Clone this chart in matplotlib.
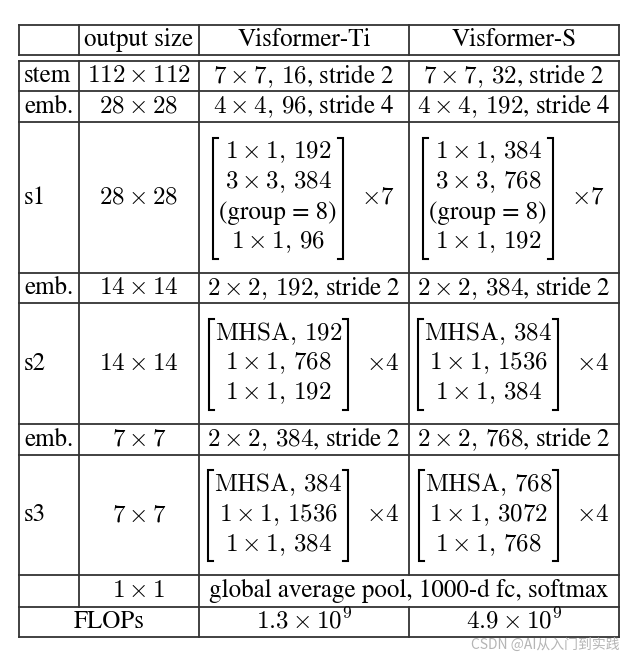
import re
import matplotlib
matplotlib.use("Agg")
import matplotlib.pyplot as plt

plt.rcParams["font.family"] = ["STIXGeneral", "DejaVu Serif"]
plt.rcParams["mathtext.fontset"] = "cm"

# table contents
header = ["", "output size", "Visformer-Ti", "Visformer-S"]
stages = ["stem", "emb.", "s1", "emb.", "s2", "emb.", "s3"]
out_sizes = [r"$112\times112$", r"$28\times28$", r"$28\times28$", r"$14\times14$",
             r"$14\times14$", r"$7\times7$", r"$7\times7$"]
ti_cfg = [r"$7\times7, 16$, stride 2", r"$4\times4, 96$, stride 4",
          [r"$1\times1, 192$", r"$3\times3, 384$", "(group = 8)", r"$1\times1, 96$"],
          r"$2\times2, 192$, stride 2",
          [r"$\mathrm{MHSA}, 192$", r"$1\times1, 768$", r"$1\times1, 192$"],
          r"$2\times2, 384$, stride 2",
          [r"$\mathrm{MHSA}, 384$", r"$1\times1, 1536$", r"$1\times1, 384$"]]
s_cfg = [r"$7\times7, 32$, stride 2", r"$4\times4, 192$, stride 4",
         [r"$1\times1, 384$", r"$3\times3, 768$", "(group = 8)", r"$1\times1, 192$"],
         r"$2\times2, 384$, stride 2",
         [r"$\mathrm{MHSA}, 384$", r"$1\times1, 1536$", r"$1\times1, 384$"],
         r"$2\times2, 768$, stride 2",
         [r"$\mathrm{MHSA}, 768$", r"$1\times1, 3072$", r"$1\times1, 768$"]]
repeats = [None, None, 7, None, 4, None, 4]
pool_size = r"$1\times1$"
pool_text = "global average pool, 1000-d fc, softmax"
flops = [r"$1.3\times10^9$", r"$4.9\times10^9$"]

# layout (pixels)
W, H = 642, 661
xs = [19, 79, 199, 409, 619]
ys = [25, 55, 61, 91, 122, 273, 303, 424, 455, 575, 607, 637]
FS = 18
LC = "#333333"
LW = 1.3
line_gap = 30

fig = plt.figure(figsize=(W / 100, H / 100), dpi=100)
ax = fig.add_axes([0, 0, 1, 1])
ax.set_xlim(0, W)
ax.set_ylim(H, 0)
ax.axis("off")
renderer = fig.canvas.get_renderer()


def fmt(s):
    # a bit more room after commas inside math
    if "$" in s:
        s = re.sub(r", (?=\d)", r",\\, ", s)
    return s


def txt(x, y, s, ha="center"):
    return ax.text(x, y, fmt(s), fontsize=FS, ha=ha, va="center", color="black")


def width(s):
    t = ax.text(0, 0, fmt(s), fontsize=FS)
    w = t.get_window_extent(renderer=renderer).width
    t.remove()
    return w


def bracket(x, y0, y1, side):
    d = 5 if side == "l" else -5
    ax.plot([x + d, x, x, x + d], [y0, y0, y1, y1], color="black", lw=1.5,
            solid_joinstyle="miter")


def block(cx, cy, lines, rep):
    n = len(lines)
    bw = max(width(s) for s in lines) + 12
    rtxt = rf"$\times{rep}$"
    rwidth = width(rtxt)
    gap = 18
    total = bw + gap + rwidth
    left = cx - total / 2
    mid = left + bw / 2
    first = cy - (n - 1) * line_gap / 2
    for i, s in enumerate(lines):
        txt(mid, first + i * line_gap, s)
    y0 = first - 15
    y1 = first + (n - 1) * line_gap + 16
    bracket(left, y0, y1, "l")
    bracket(left + bw, y0, y1, "r")
    txt(left + bw + gap, cy, rtxt, ha="left")


# horizontal rules
for y in ys:
    ax.plot([xs[0], xs[-1]], [y, y], color=LC, lw=LW)

# vertical rules
row_tops = [ys[0]] + ys[2:-1]
row_bots = [ys[1]] + ys[3:]
for i, (t, b) in enumerate(zip(row_tops, row_bots)):
    if i < 8:
        cols = xs
    elif i == 8:
        cols = [xs[0], xs[1], xs[2], xs[4]]
    else:
        cols = [xs[0], xs[2], xs[3], xs[4]]
    for x in cols:
        ax.plot([x, x], [t, b], color=LC, lw=LW)

centers_x = [(a + b) / 2 for a, b in zip(xs[:-1], xs[1:])]
row_cy = [(t + b) / 2 for t, b in zip(row_tops, row_bots)]

# header
for j, h in enumerate(header):
    if h:
        txt(centers_x[j], row_cy[0], h)

# body
for i in range(len(stages)):
    cy = row_cy[i + 1]
    txt(xs[0] + 5, cy, stages[i], ha="left")
    txt(centers_x[1], cy, out_sizes[i])
    for j, cfg in ((2, ti_cfg[i]), (3, s_cfg[i])):
        if isinstance(cfg, list):
            block(centers_x[j], cy, cfg, repeats[i])
        else:
            txt(centers_x[j], cy, cfg)

txt(centers_x[1], row_cy[8], pool_size)
txt((xs[2] + xs[4]) / 2, row_cy[8], pool_text)
txt((xs[0] + xs[2]) / 2, row_cy[9], "FLOPs")
txt(centers_x[2], row_cy[9], flops[0])
txt(centers_x[3], row_cy[9], flops[1])

ax.text(620, 645, "CSDN @AI从入门到实践", fontsize=10, ha="right", va="center",
        color="#b5b5b5", family=["Noto Sans CJK SC", "DejaVu Sans"])

fig.savefig("out.png", dpi=100)
